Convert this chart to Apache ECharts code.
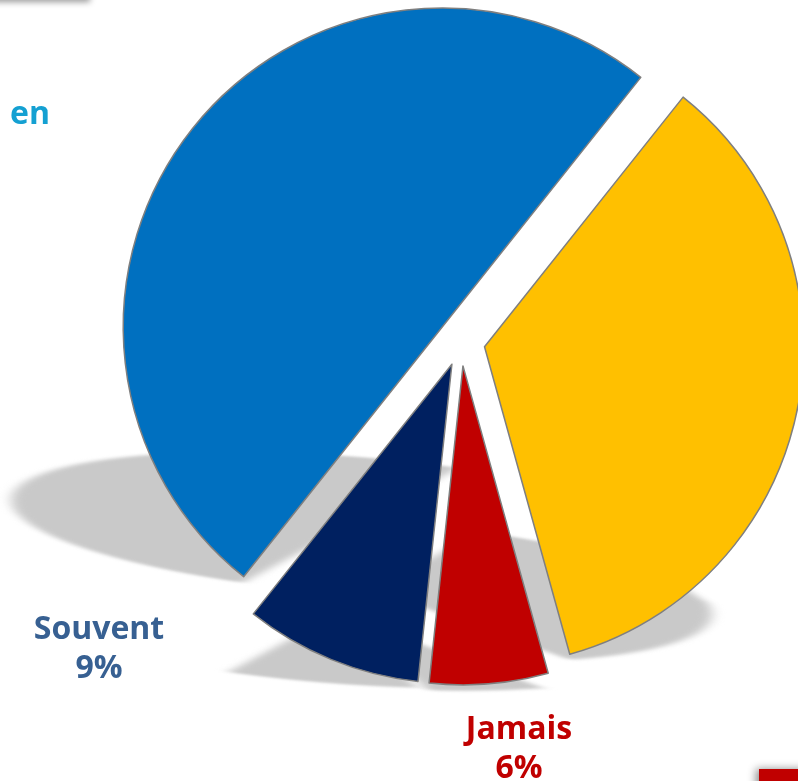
<!DOCTYPE html>
<html><head><meta charset="utf-8">
<script src="https://cdn.jsdelivr.net/npm/echarts@6/dist/echarts.min.js"></script>
<style>
html,body{margin:0;padding:0;background:#fff;overflow:hidden;}
#wrap{position:relative;width:798px;height:781px;overflow:hidden;}
.layer{position:absolute;left:0;top:0;width:798px;height:781px;}
.shadow{transform-origin:0 0;filter:blur(6px);}
</style></head><body>
<div id="wrap">
  <div id="sh0" class="layer shadow"></div>
  <div id="sh1" class="layer shadow"></div>
  <div id="sh2" class="layer shadow"></div>
  <div id="sh3" class="layer shadow"></div>
  <div id="main" class="layer"></div>
</div>
<script>
// ---- data ----
const categories = ['en', '', 'Jamais', 'Souvent'];
const values = [50, 35, 6, 9];

// ---- styling ----
const sliceColors = ['#0070C0', '#FFC000', '#C00000', '#002060'];
const labelColors = ['#14A0D2', '#FFC000', '#C00000', '#376092'];
const labelShown = [true, false, true, true];
const labelWithValue = [false, true, true, true];
const labelPlace = [
  {x: 10, y: 115, align: 'left'},
  null,
  {x: 519, y: 749, align: 'center'},
  {x: 99, y: 649, align: 'center'}
];
// perspective shadow (per slice, anchored at each slice's bottom edge)
const shadowSkew = 0.364, shadowScaleY = 0.23, shadowDy = 5;
const shadowAnchorY = [578, 655, 686, 683];

function pieSeries(onlyIndex) {
  const isShadow = onlyIndex !== undefined;
  return {
    type: 'pie',
    center: [461, 342],
    radius: 319,
    startAngle: 231.5,
    clockwise: true,
    selectedMode: 'multiple',
    selectedOffset: 24,
    animation: false,
    silent: true,
    emphasis: {disabled: true},
    label: {show: false},
    labelLine: {show: false},
    data: categories.map((c, i) => ({
      name: c,
      value: values[i],
      selected: true,
      itemStyle: isShadow
        ? {color: i === onlyIndex ? '#c9c9c9' : 'rgba(0,0,0,0)', borderWidth: 0}
        : {color: sliceColors[i], borderColor: '#7f7f7f', borderWidth: 1.5}
    }))
  };
}

// shadow layers: same pie drawn in grey, one slice per layer, then projected
for (let i = 0; i < categories.length; i++) {
  const el = document.getElementById('sh' + i);
  const yb = shadowAnchorY[i];
  el.style.transform = 'matrix(1,0,' + shadowSkew + ',' + shadowScaleY + ',' +
    (-shadowSkew * yb) + ',' + (yb * (1 - shadowScaleY) + shadowDy) + ')';
  const c = echarts.init(el, null, {renderer: 'canvas'});
  c.setOption({animation: false, series: [pieSeries(i)]});
}

const labelGraphics = [];
categories.forEach((c, i) => {
  if (!labelShown[i] || !labelPlace[i]) return;
  const p = labelPlace[i];
  labelGraphics.push({
    type: 'text', z: 20,
    style: {
      text: labelWithValue[i] ? c + '\n' + values[i] + '%' : c,
      x: p.x, y: p.y, align: p.align, verticalAlign: 'middle',
      fill: labelColors[i],
      fontFamily: 'Open Sans', fontWeight: 'bold', fontSize: 32, lineHeight: 39
    }
  });
});

const chart = echarts.init(document.getElementById('main'), null, {renderer: 'canvas'});
chart.setOption({
  animation: false,
  backgroundColor: 'transparent',
  graphic: [
    {type: 'rect', z: 10, shape: {x: -10, y: -12, width: 100, height: 12},
     style: {fill: '#fff', shadowBlur: 6, shadowOffsetY: 2, shadowColor: 'rgba(0,0,0,0.4)'}},
    {type: 'rect', z: 10, shape: {x: 759, y: 769, width: 50, height: 20},
     style: {fill: '#C00000', shadowBlur: 8, shadowOffsetX: -3, shadowColor: 'rgba(0,0,0,0.45)'}}
  ].concat(labelGraphics),
  series: [pieSeries()]
});
</script>
</body></html>
